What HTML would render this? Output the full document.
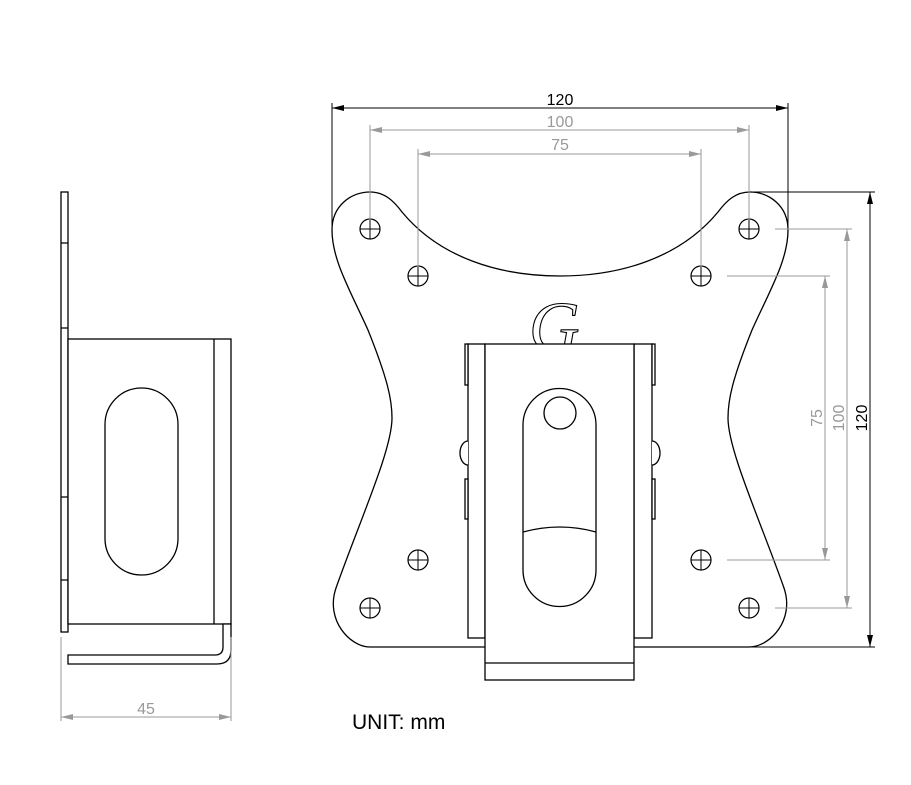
<!DOCTYPE html>
<html><head><meta charset="utf-8"><style>
html,body{margin:0;padding:0;background:#fff;}
svg{display:block;font-family:"Liberation Sans",sans-serif;}
</style></head><body>
<svg width="911" height="785" viewBox="0 0 911 785" xmlns="http://www.w3.org/2000/svg">
<defs>
<marker id="ab" markerWidth="12" markerHeight="6" refX="12" refY="3" orient="auto-start-reverse" markerUnits="userSpaceOnUse"><path d="M0,0 L12,3 L0,6 z" fill="#000"/></marker>
<marker id="ag" markerWidth="12" markerHeight="6" refX="12" refY="3" orient="auto-start-reverse" markerUnits="userSpaceOnUse"><path d="M0,0 L12,3 L0,6 z" fill="#999"/></marker>
</defs>
<g fill="none" stroke="#000" stroke-width="1.3">
<path d="M332,230 C332,205 352,192 370,192 C384,192 393,200 402,212 C440,258 500,276 560,276 C620,276 680,258 718,212 C727,200 736,192 750,192 C768,192 788,205 788,230 C788,260 770,290 752,330 C732,380 728,400 728,418 C728,450 760,520 784,588 C795,620 770,647 749,647 L370,647 C350,647 325,620 336,588 C360,520 392,450 392,418 C392,400 388,380 368,330 C350,290 332,260 332,230 Z"/>
</g>
<g stroke="#000" stroke-width="1.2" fill="#fff">
<circle cx="370" cy="229" r="10"/><circle cx="749" cy="229" r="10"/>
<circle cx="418" cy="276" r="10"/><circle cx="701" cy="276" r="10"/>
<circle cx="418" cy="560" r="10"/><circle cx="701" cy="560" r="10"/>
<circle cx="370" cy="608" r="10"/><circle cx="749" cy="608" r="10"/>
</g>
<g stroke="#000" stroke-width="1">
<path d="M360,229h20M370,219v20M739,229h20M749,219v20M408,276h20M418,266v20M691,276h20M701,266v20M408,560h20M418,550v20M691,560h20M701,550v20M360,608h20M370,598v20M739,608h20M749,598v20"/>
</g>
<text x="529" y="350" font-family="Liberation Serif,serif" font-style="italic" font-size="70" fill="#fff" stroke="#000" stroke-width="1.1">G</text>
<g fill="#fff" stroke="#000" stroke-width="1.3">
<rect x="468" y="344" width="17" height="294"/>
<rect x="634" y="344" width="18" height="294"/>
<path d="M468,441 A8,12 0 0 0 468,465"/>
<path d="M652,441 A8,12 0 0 1 652,465"/>
<rect x="465" y="344" width="3" height="41"/><rect x="465" y="479" width="3" height="40"/>
<rect x="652" y="344" width="3" height="41"/><rect x="652" y="479" width="3" height="40"/>
<rect x="485" y="344" width="149" height="336"/>
<path d="M485,663h149" fill="none"/>
<path d="M523,425 A36.5,36.5 0 0 1 596,425 L596,570 A36.5,36.5 0 0 1 523,570 Z"/>
<circle cx="560" cy="413" r="16"/>
<path d="M523,532 Q560,522 596,532" fill="none"/>
</g>
<g fill="#fff" stroke="#000" stroke-width="1.3">
<rect x="61" y="192" width="7" height="440"/>
<path d="M61,243h7M61,328h7M61,497h7M61,580h7" fill="none"/>
<rect x="68" y="339" width="163" height="285"/>
<path d="M214,339v285" fill="none"/>
<path d="M105,424.5 A36.5,36.5 0 0 1 178,424.5 L178,538.5 A36.5,36.5 0 0 1 105,538.5 Z"/>
<path d="M68,655 L215,655 Q223,655 223,647 L223,624 L231,624 L231,650 Q231,664 217,664 L68,664 Z"/>
</g>
<g stroke="#000" stroke-width="1">
<path d="M332,103v127M788,103v127M750,192h125M749,647h126" fill="none"/>
<line x1="332" y1="108" x2="788" y2="108" marker-start="url(#ab)" marker-end="url(#ab)"/>
<line x1="870" y1="192" x2="870" y2="647" marker-start="url(#ab)" marker-end="url(#ab)"/>
</g>
<g stroke="#999" stroke-width="1">
<path d="M370,125v95M749,125v95M418,149v118M701,149v118M775,229h77M775,608h77M727,276h103M727,560h103M61,637v84M231,637v84" fill="none"/>
<line x1="370" y1="130" x2="749" y2="130" marker-start="url(#ag)" marker-end="url(#ag)"/>
<line x1="418" y1="154" x2="701" y2="154" marker-start="url(#ag)" marker-end="url(#ag)"/>
<line x1="847" y1="229" x2="847" y2="608" marker-start="url(#ag)" marker-end="url(#ag)"/>
<line x1="825" y1="276" x2="825" y2="560" marker-start="url(#ag)" marker-end="url(#ag)"/>
<line x1="61" y1="717" x2="231" y2="717" marker-start="url(#ag)" marker-end="url(#ag)"/>
</g>
<g font-size="16" text-anchor="middle">
<text x="560" y="105" fill="#000">120</text>
<text x="560" y="127" fill="#999">100</text>
<text x="560" y="150" fill="#999">75</text>
<text x="146" y="714" fill="#999">45</text>
<text transform="translate(867,418) rotate(-90)" fill="#000">120</text>
<text transform="translate(844,418) rotate(-90)" fill="#999">100</text>
<text transform="translate(822,418) rotate(-90)" fill="#999">75</text>
</g>
<text x="352" y="729" font-size="21" fill="#000">UNIT: mm</text>
</svg>
</body></html>
